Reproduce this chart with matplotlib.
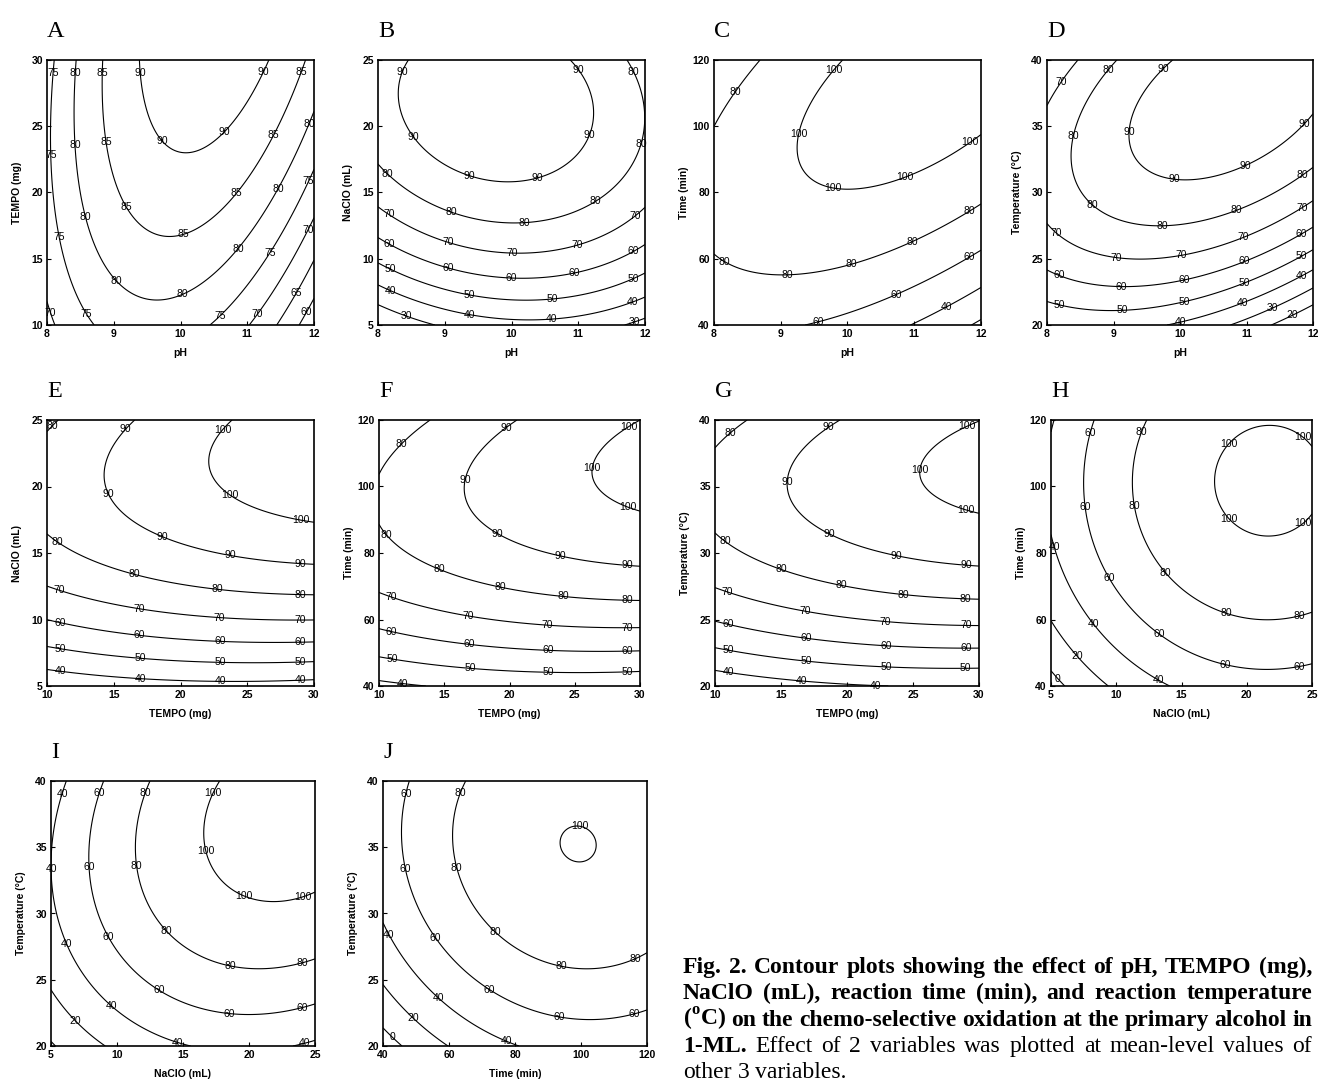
import numpy as np
import matplotlib
matplotlib.use("Agg")
import matplotlib.pyplot as plt

plt.rcParams["font.family"] = ["Liberation Sans", "DejaVu Sans"]
plt.rcParams["mathtext.fontset"] = "custom"
plt.rcParams["mathtext.rm"] = "Liberation Serif"
plt.rcParams["mathtext.bf"] = "Liberation Serif:bold"

# ---------------------------------------------------------------------------
# Data: points (x, y) per response level
# ---------------------------------------------------------------------------
# A: pH vs TEMPO (mg)
A_levels = [60, 65, 70, 75, 80, 85, 90]
A_trace = {
    90: [(9.37, 30), (9.72, 23.96), (10.0, 22.95), (10.69, 24.6), (11.32, 30)],
    85: [(8.82, 30), (8.97, 22.1), (9.50, 17.2), (9.90, 16.7), (10.52, 18.2), (11.24, 22.7), (11.69, 27.9), (11.84, 30)],
    80: [(8.44, 30), (8.47, 21.4), (8.72, 15.9), (9.47, 11.9), (9.75, 11.8), (10.49, 13.8), (11.22, 18.2), (11.77, 23.2), (12, 25.85)],
    75: [(8.10, 30), (8.07, 22.6), (8.19, 16.9), (8.50, 11.5), (8.70, 10), (10.44, 10), (11.32, 15.4), (11.87, 20.4), (12, 21.6)],
    70: [(8.0, 11.9), (8.1, 10), (11.02, 10), (11.24, 11.5), (11.82, 16.4), (12, 18.05)],
    65: [(11.42, 10), (11.69, 12.4), (12, 14.8)],
    60: [(11.79, 10), (12, 11.76)],
}
# B: pH vs NaClO (mL)
B_levels = [30, 40, 50, 60, 70, 80, 90]
B_trace = {
    90: [(8.45, 25), (8.33, 22.57), (8.4, 20.0), (8.78, 17.67), (9.83, 15.79), (10.98, 17.67), (11.23, 21.2), (11.1, 22.9), (10.88, 25)],
    80: [(8, 17.17), (9.08, 13.53), (10.15, 12.78), (11.25, 14.28), (11.93, 18.68), (11.98, 19.93), (11.95, 22.94), (11.73, 25)],
    70: [(8, 13.9), (9.43, 10.9), (10.48, 10.52), (11.63, 12.4), (12, 13.9)],
    60: [(8, 11.65), (9.38, 9.0), (10.53, 8.59), (11.63, 10.0), (12, 11.0)],
    50: [(8, 9.64), (9.38, 7.26), (10.53, 6.88), (11.63, 8.14), (12, 8.94)],
    40: [(8, 8.01), (9.38, 5.75), (10.53, 5.38), (11.63, 6.43), (12, 7.18)],
    30: [(8, 6.58), (8.83, 5), (11.68, 5), (12, 5.5)],
}
# C: pH vs Time (min)
C_levels = [20, 40, 60, 80, 100]
C_trace = {
    100: [(9.92, 120), (9.54, 108.8), (9.24, 94.7), (9.34, 85.7), (9.99, 80.9), (10.44, 81.7), (11.54, 90.7), (12, 97.2)],
    80: [(8, 100.2), (8.32, 110.3), (8.69, 120), (8, 61.1), (8.4, 57.2), (9.04, 55.06), (9.54, 55.76), (10.52, 61.9), (11.59, 71.8), (12, 77.0)],
    60: [(9.34, 40), (9.59, 41.3), (10.69, 49.0), (11.72, 59.1), (12, 62.6)],
    40: [(10.97, 40), (11.47, 45.0), (12, 51.3)],
    20: [(11.87, 40), (12, 42)],
}
# D: pH vs Temperature (°C)
D_levels = [20, 30, 40, 50, 60, 70, 80, 90]
D_trace = {
    90: [(9.92, 40), (9.45, 37.8), (9.25, 33.9), (9.42, 31.9), (10.15, 30.9), (10.50, 31.2), (11.51, 33.7), (12, 35.9)],
    80: [(9.07, 40), (8.67, 38.07), (8.37, 34.4), (8.39, 31.9), (8.64, 29.16), (9.65, 27.4), (10.78, 28.5), (11.81, 31.17), (12, 31.9)],
    70: [(8, 36.4), (8.22, 38.3), (8.49, 40), (8, 27.5), (8.34, 26.0), (9.45, 24.9), (10.55, 25.9), (11.56, 28.2), (12, 29.3)],
    60: [(8, 24.77), (8.34, 23.4), (9.45, 22.9), (10.6, 24.1), (11.56, 26.4), (12, 27.35)],
    50: [(8, 21.76), (8.37, 21.25), (9.45, 21.18), (10.45, 22.5), (11.56, 24.6), (12, 25.5)],
    40: [(9.85, 20), (10.4, 20.75), (11.46, 22.9), (12, 24.0)],
    30: [(10.8, 20), (11.41, 21.4), (12, 22.76)],
    20: [(11.41, 20), (11.66, 20.75), (12, 21.5)],
}
# E: TEMPO (mg) vs NaClO (mL)
E_levels = [40, 50, 60, 70, 80, 90, 100]
E_trace = {
    100: [(23.95, 25), (22.95, 24.1), (22.3, 22.4), (22.45, 20.6), (24.45, 18.7), (27.45, 17.86), (30, 17.36)],
    90: [(16.6, 25), (15.45, 24.1), (14.7, 22.2), (14.4, 20.2), (15.08, 18.7), (17.2, 17.0), (22.45, 15.1), (28.2, 14.27), (30, 14.17)],
    80: [(10, 24.1), (10.8, 25), (10, 16.48), (11.58, 15.35), (16.95, 13.27), (22.45, 12.27), (28.2, 11.84), (30, 11.82)],
    70: [(10, 12.47), (11.58, 11.97), (17.08, 10.84), (22.83, 10.16), (30, 9.96)],
    60: [(10, 10.01), (11.58, 9.59), (17.2, 8.76), (22.83, 8.38), (30, 8.33)],
    50: [(10, 8.0), (11.58, 7.71), (17.2, 7.08), (22.83, 6.75), (30, 6.83)],
    40: [(10, 6.25), (11.58, 6.0), (17.2, 5.58), (22.83, 5.33), (30, 5.5)],
}
# F: TEMPO (mg) vs Time (min)
F_levels = [40, 50, 60, 70, 80, 90, 100]
F_trace = {
    100: [(30, 120), (28.6, 116.5), (26.7, 110), (26.3, 105), (26.7, 100), (28.5, 94.9), (30, 92.4)],
    90: [(20.66, 120), (18.75, 115), (16.96, 107), (16.57, 100), (16.96, 93.9), (18.24, 87.9), (21.05, 82.4), (26.16, 77.9), (30, 75.9)],
    80: [(10, 103), (11.59, 112.5), (14.0, 120), (10, 89.1), (11.33, 82.4), (16.45, 72.4), (22.07, 67.9), (27.7, 66.1), (30, 65.7)],
    70: [(10, 68.07), (11.33, 66.07), (16.96, 61.05), (22.6, 58.3), (30, 57.6)],
    60: [(10, 57.3), (11.33, 55.8), (16.96, 52.6), (22.6, 50.8), (30, 50.6)],
    50: [(10, 49.0), (11.33, 47.8), (16.96, 45.3), (22.6, 44.1), (30, 44.3)],
    40: [(10, 41.6), (12.1, 40.6), (13.9, 40)],
}
# G: TEMPO (mg) vs Temperature (°C)
G_levels = [40, 50, 60, 70, 80, 90, 100]
G_trace = {
    100: [(30, 40), (28.03, 38.87), (26.0, 37.5), (25.64, 36.2), (25.9, 35.0), (27.53, 33.7), (30, 33.0)],
    90: [(19.46, 40), (17.69, 38.7), (15.93, 36.5), (15.55, 35.0), (15.93, 33.7), (17.94, 31.7), (22.99, 29.98), (28.54, 29.17), (30, 29.0)],
    80: [(10, 37.87), (11.13, 39.1), (12.4, 40), (10, 31.6), (11.39, 30.35), (16.94, 28.2), (22.48, 27.1), (27.78, 26.6), (30, 26.5)],
    70: [(10, 27.4), (11.39, 26.84), (16.94, 25.59), (22.74, 24.84), (30, 24.5)],
    60: [(10, 24.96), (11.39, 24.46), (16.94, 23.58), (22.74, 23.08), (30, 22.9)],
    50: [(10, 22.96), (11.39, 22.58), (16.94, 21.88), (22.74, 21.5), (30, 21.33)],
    40: [(10, 21.2), (11.39, 20.95), (17.19, 20.33), (19.96, 20.07), (23.2, 20)],
}
# H: NaClO (mL) vs Time (min)
H_levels = [0, 20, 40, 60, 80, 100]
H_trace = {
    100: [(21.55, 118), (18.2, 110), (17.5, 100.5), (18.22, 90.9), (21.29, 84.9), (24.36, 88.9), (25, 91.9), (25, 112.5), (23.85, 117)],
    80: [(12.47, 120), (11.57, 110), (11.32, 97.9), (11.7, 85.9), (13.87, 73.9), (18.22, 62.9), (21.29, 59.85), (25, 62.06)],
    60: [(8.45, 120), (7.61, 104), (7.74, 93.9), (9.53, 71.9), (13.1, 55.8), (18.22, 46.8), (21.29, 45.3), (25, 46.8)],
    40: [(5.05, 120), (5, 118), (5, 85.9), (5.69, 77.9), (7.99, 58.8), (11.83, 44.3), (14.13, 40)],
    20: [(5, 59.85), (6.97, 48.8), (9.4, 40)],
    0: [(5, 44.8), (6.2, 40)],
}
# I: NaClO (mL) vs Temperature (°C)
I_levels = [0, 20, 40, 60, 80, 100]
I_trace = {
    100: [(17.94, 40), (16.93, 38.06), (16.68, 35.3), (17.31, 33.03), (19.33, 31.5), (22.35, 30.9), (25, 31.65)],
    80: [(12.39, 40), (11.38, 37.06), (11.38, 34.04), (12.01, 31.02), (14.28, 28.5), (17.81, 26.5), (21.34, 25.86), (25, 26.54)],
    60: [(9.04, 40), (7.98, 36.55), (7.98, 32.53), (8.73, 29.5), (11.25, 25.48), (16.05, 22.97), (21.34, 22.47), (25, 23.1)],
    40: [(6.21, 40), (5.33, 36.3), (5, 33.28), (5, 32.5), (6.21, 27.5), (9.49, 23.1), (14.28, 20.45), (15.54, 20), (23.36, 20), (25, 20.4)],
    20: [(5, 24.48), (6.84, 21.96), (8.98, 20)],
    0: [(5, 20.3), (5.33, 20)],
}
# J: Time (min) vs Temperature (°C)
J_levels = [0, 20, 40, 60, 80, 100]
J_trace = {
    100: [(95.1, 35.1), (99.1, 36.35), (101.7, 35.5), (99.6, 34.26)],
    80: [(64.9, 40), (61.9, 37.5), (61.4, 34.5), (63.4, 32.0), (71.4, 29.2), (84.5, 26.9), (102.7, 25.9), (114.8, 26.3), (120, 26.9)],
    60: [(47.8, 40), (45.7, 37.0), (46.75, 33.5), (50.3, 30.4), (59.3, 26.9), (72.4, 24.4), (92.6, 22.26), (104.7, 22.14), (120, 22.64)],
    40: [(40, 29.8), (43.2, 27.9), (56.3, 23.5), (76.5, 20.5), (81.5, 20)],
    20: [(40, 24.65), (49.3, 22.0), (59.8, 20)],
    0: [(40, 21.5), (45.2, 20)],
}

# axis ranges and ticks
PH = (8, 12, [8, 9, 10, 11, 12])
TEMPO = (10, 30, [10, 15, 20, 25, 30])
NACLO = (5, 25, [5, 10, 15, 20, 25])
TIME = (40, 120, [40, 60, 80, 100, 120])
TEMP = (20, 40, [20, 25, 30, 35, 40])
LBL = {"pH": "pH", "TEMPO": "TEMPO (mg)", "NaClO": "NaClO (mL)",
       "Time": "Time (min)", "Temp": "Temperature (\u00b0C)"}

panels = [
    ("A", "pH", PH, "TEMPO", TEMPO, A_levels, A_trace, (47, 60, 314, 325)),
    ("B", "pH", PH, "NaClO", NACLO, B_levels, B_trace, (378, 60, 645, 325)),
    ("C", "pH", PH, "Time", TIME, C_levels, C_trace, (714, 60, 981, 325)),
    ("D", "pH", PH, "Temp", TEMP, D_levels, D_trace, (1047, 60, 1313, 325)),
    ("E", "TEMPO", TEMPO, "NaClO", NACLO, E_levels, E_trace, (47, 420, 314, 686)),
    ("F", "TEMPO", TEMPO, "Time", TIME, F_levels, F_trace, (379, 420, 640, 686)),
    ("G", "TEMPO", TEMPO, "Temp", TEMP, G_levels, G_trace, (715, 420, 979, 686)),
    ("H", "NaClO", NACLO, "Time", TIME, H_levels, H_trace, (1051, 420, 1312, 686)),
    ("I", "NaClO", NACLO, "Temp", TEMP, I_levels, I_trace, (51, 781, 315, 1046)),
    ("J", "Time", TIME, "Temp", TEMP, J_levels, J_trace, (383, 781, 647, 1046)),
]

W_PX, H_PX = 1318, 1081
fig = plt.figure(figsize=(W_PX / 100, H_PX / 100), dpi=100)
fig.patch.set_facecolor("white")


def fit_quadratic(trace, xr, yr):
    xm, xh = (xr[0] + xr[1]) / 2, (xr[1] - xr[0]) / 2
    ym, yh = (yr[0] + yr[1]) / 2, (yr[1] - yr[0]) / 2
    rows, vals = [], []
    for lev, pts in trace.items():
        for x, y in pts:
            u, v = (x - xm) / xh, (y - ym) / yh
            rows.append([1, u, v, u * u, v * v, u * v])
            vals.append(lev)
    coef, *_ = np.linalg.lstsq(np.array(rows, float), np.array(vals, float), rcond=None)

    def f(X, Y):
        U, V = (X - xm) / xh, (Y - ym) / yh
        return coef[0] + coef[1] * U + coef[2] * V + coef[3] * U * U + coef[4] * V * V + coef[5] * U * V
    return f


def label_lines(ax, cs, xr, yr, spacing=0.27, end=0.05):
    for lev, segs in zip(cs.levels, cs.allsegs):
        for seg in segs:
            if len(seg) < 2:
                continue
            u = (seg[:, 0] - xr[0]) / (xr[1] - xr[0])
            v = (seg[:, 1] - yr[0]) / (yr[1] - yr[0])
            d = np.r_[0, np.cumsum(np.hypot(np.diff(u), np.diff(v)))]
            L = d[-1]
            if L < 0.05:
                continue
            if L < 0.45:
                pos = [L / 2]
            else:
                n = int(round((L - 2 * end) / spacing)) + 1
                pos = np.linspace(end, L - end, n)
            for p in pos:
                x = np.interp(p, d, seg[:, 0])
                y = np.interp(p, d, seg[:, 1])
                ax.text(x, y, f"{int(round(lev))}", ha="center", va="center",
                        fontsize=7.5, color="black", clip_on=False, zorder=3)


for letter, xk, xr, yk, yr, levels, trace, box in panels:
    l, t, r, b = box
    ax = fig.add_axes([l / W_PX, 1 - b / H_PX, (r - l) / W_PX, (b - t) / H_PX])
    f = fit_quadratic(trace, xr, yr)
    xs = np.linspace(xr[0], xr[1], 300)
    ys = np.linspace(yr[0], yr[1], 300)
    X, Y = np.meshgrid(xs, ys)
    Z = f(X, Y)
    cs = ax.contour(X, Y, Z, levels=levels, colors="black", linewidths=0.8)
    label_lines(ax, cs, xr, yr)
    ax.set_xlim(xr[0], xr[1])
    ax.set_ylim(yr[0], yr[1])
    ax.set_xticks(xr[2])
    ax.set_yticks(yr[2])
    ax.tick_params(direction="in", length=3, width=0.8, labelsize=7.5, pad=3)
    for lab in ax.get_xticklabels() + ax.get_yticklabels():
        lab.set_fontweight("bold")
    for s in ax.spines.values():
        s.set_linewidth(1.2)
    ax.set_xlabel(LBL[xk], fontsize=7.5, fontweight="bold")
    ax.set_ylabel(LBL[yk], fontsize=7.5, fontweight="bold")
    ax.xaxis.set_label_coords(0.5, -0.085)
    ax.yaxis.set_label_coords(-0.095, 0.5)
    ax.text(0.0, 1.088, letter, transform=ax.transAxes, ha="left", va="baseline",
            fontsize=17.5, family="Liberation Serif")

# ---------------------------------------------------------------------------
# Caption (justified block)
# ---------------------------------------------------------------------------
cap_lines = [
    [("Fig. 2. Contour plots showing the effect of pH, TEMPO (mg),", "bold")],
    [("NaClO (mL), reaction time (min), and reaction temperature", "bold")],
    [(r"($^{\mathbf{o}}$C) on the chemo-selective oxidation at the primary alcohol in", "bold")],
    [("1-ML.", "bold"), ("Effect of 2 variables was plotted at mean-level values of", "normal")],
    [("other 3 variables.", "normal")],
]
cap_justify = [True, True, True, True, False]
cap_left, cap_right = 683, 1312
cap_baselines = [973, 999, 1026, 1052, 1078]

fig.canvas.draw()
rend = fig.canvas.get_renderer()


def measure(txt, weight, fs):
    tt = fig.text(0, 0, txt, fontsize=fs, fontweight=weight, family="Liberation Serif")
    w = tt.get_window_extent(rend).width
    tt.remove()
    return w


def words_of(line):
    out = []
    for seg, wt in line:
        for w in seg.split(" "):
            if w:
                out.append((w, wt))
    return out


width_avail = cap_right - cap_left
fs = 17.0
while fs > 9:
    ok = True
    for line, just in zip(cap_lines, cap_justify):
        ws = words_of(line)
        tot = sum(measure(w, wt, fs) for w, wt in ws)
        if tot + (len(ws) - 1) * 0.22 * fs * 100 / 72 > width_avail:
            ok = False
            break
    if ok:
        break
    fs -= 0.25

for line, just, base in zip(cap_lines, cap_justify, cap_baselines):
    ws = words_of(line)
    widths = [measure(w, wt, fs) for w, wt in ws]
    if just and len(ws) > 1:
        gap = (width_avail - sum(widths)) / (len(ws) - 1)
    else:
        gap = 0.25 * fs * 100 / 72
    x = cap_left
    for (w, wt), wd in zip(ws, widths):
        fig.text(x / W_PX, 1 - base / H_PX, w, fontsize=fs, fontweight=wt,
                 family="Liberation Serif", ha="left", va="baseline")
        x += wd + gap

fig.savefig("out.png", dpi=100, facecolor="white")
